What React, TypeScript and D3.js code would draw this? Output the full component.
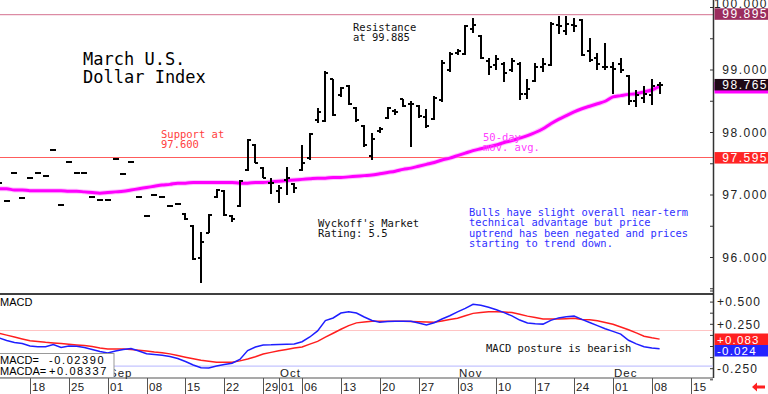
import * as d3 from "d3";
import { useEffect, useRef } from "react";

const W = 768;
const H = 394;

// days 0-23: single-print days (open = high = low = close)
const earlyPrices = [
  97.19, 96.9, 97.35, 96.95, 97.27, 97.35, 97.3, 97.72, 96.84, 97.53, 97.35, 97.35,
  96.97, 96.92, 96.92, 97.58, 97.34, 97.53, 96.97, 96.66, 97.0, 96.97, 96.82, 96.86,
];

// days 24-85
const opens = [
  96.7, 96.5, 96.0, 96.4, 96.97, 97.06, 96.67, 96.82, 97.4, 97.8,
  97.44, 97.2, 97.06, 97.24, 97.18, 97.4, 97.59, 98.2, 98.18, 98.85,
  98.6, 98.74, 98.4, 98.1, 97.62, 98.03, 98.23, 98.35, 98.53, 98.46,
  98.42, 98.25, 98.22, 98.52, 99.0, 99.28, 99.26, 99.66, 99.55, 99.14,
  99.08, 99.1, 99.0, 99.1, 98.62, 98.83, 99.05, 99.08, 99.72, 99.62,
  99.72, 99.8, 99.3, 99.2, 99.05, 99.05, 99.1, 98.9, 98.5, 98.55, 98.6, 98.76,
];
const highs = [
  96.71, 96.52, 96.41, 96.7, 97.1, 97.08, 96.68, 97.24, 97.9, 97.82,
  97.45, 97.27, 97.16, 97.45, 97.19, 97.8, 97.99, 98.39, 98.98, 98.86,
  98.73, 98.76, 98.41, 98.12, 97.99, 98.09, 98.41, 98.38, 98.54, 98.5,
  98.44, 98.38, 98.58, 99.16, 99.29, 99.34, 99.72, 99.83, 99.56, 99.19,
  99.24, 99.13, 99.19, 99.13, 98.86, 99.11, 99.19, 99.77, 99.86, 99.86,
  99.83, 99.82, 99.51, 99.27, 99.43, 99.13, 99.19, 98.92, 98.68, 98.74, 98.86, 98.81,
];
const lows = [
  96.6, 95.96, 95.59, 96.39, 96.95, 96.66, 96.57, 96.81, 97.38, 97.51,
  97.27, 97.02, 96.87, 97.0, 97.03, 97.38, 97.56, 98.15, 98.17, 98.26,
  98.57, 98.44, 98.17, 97.77, 97.56, 97.99, 98.22, 98.28, 98.41, 97.77,
  98.23, 98.07, 98.2, 98.49, 98.97, 99.24, 99.24, 99.59, 99.18, 98.92,
  99.0, 98.81, 98.97, 98.52, 98.54, 98.81, 98.97, 99.06, 99.58, 99.56,
  99.61, 99.22, 99.13, 99.0, 99.0, 98.62, 98.95, 98.44, 98.41, 98.47, 98.44, 98.62,
];
const closes = [
  96.61, 95.98, 96.25, 96.68, 97.08, 96.68, 96.62, 97.22, 97.88, 97.52,
  97.28, 97.19, 97.12, 97.27, 97.12, 97.52, 97.97, 98.33, 98.96, 98.28,
  98.71, 98.46, 98.2, 97.8, 97.9, 98.06, 98.4, 98.33, 98.42, 98.45,
  98.27, 98.1, 98.55, 99.12, 99.26, 99.31, 99.7, 99.72, 99.2, 99.05,
  99.18, 98.95, 99.15, 98.62, 98.7, 99.05, 99.1, 99.74, 99.7, 99.73,
  99.7, 99.24, 99.16, 99.1, 99.05, 99.02, 99.0, 98.5, 98.6, 98.62, 98.75, 98.765,
];

const movingAvg = [
  97.1, 97.1, 97.08, 97.08, 97.07, 97.07, 97.07, 97.07, 97.07, 97.06,
  97.06, 97.05, 97.04, 97.03, 97.04, 97.05, 97.06, 97.08, 97.1, 97.12,
  97.14, 97.16, 97.17, 97.19, 97.19, 97.2, 97.2, 97.2, 97.2, 97.2,
  97.2, 97.19, 97.19, 97.2, 97.2, 97.21, 97.22, 97.23, 97.24, 97.25,
  97.26, 97.27, 97.27, 97.28, 97.28, 97.29, 97.3, 97.31, 97.32, 97.34,
  97.36, 97.38, 97.41, 97.43, 97.46, 97.49, 97.52, 97.56, 97.59, 97.63,
  97.67, 97.71, 97.74, 97.77, 97.8, 97.84, 97.87, 97.91, 97.95, 98.0,
  98.06, 98.14, 98.21, 98.27, 98.33, 98.38, 98.42, 98.46, 98.5, 98.57,
  98.59, 98.61, 98.62, 98.65, 98.68, 98.74,
];

const macdLine = [
  0.096, 0.068, 0.045, 0.034, 0.006, -0.002, -0.002, 0.023, -0.011, 0.006,
  0.002, -0.011, -0.034, -0.056, -0.073, -0.051, -0.034, -0.023, -0.051, -0.081,
  -0.09, -0.099, -0.113, -0.135, -0.169, -0.208, -0.24, -0.242, -0.22, -0.203,
  -0.189, -0.146, -0.045, -0.006, 0.017, 0.019, 0.023, 0.025, 0.028, 0.054,
  0.107, 0.175, 0.291, 0.321, 0.377, 0.392, 0.377, 0.332, 0.293, 0.273,
  0.282, 0.284, 0.284, 0.284, 0.265, 0.242, 0.268, 0.31, 0.346, 0.39,
  0.43, 0.475, 0.464, 0.441, 0.413, 0.381, 0.345, 0.298, 0.265, 0.257,
  0.252, 0.294, 0.322, 0.336, 0.342, 0.305, 0.27, 0.235, 0.2, 0.17,
  0.14, 0.07, 0.03, -0.002, -0.017, -0.024,
];
const macdSignal = [
  0.149, 0.128, 0.107, 0.085, 0.065, 0.056, 0.047, 0.04, 0.033, 0.026,
  0.018, 0.011, 0.0, -0.016, -0.028, -0.028, -0.028, -0.033, -0.042, -0.052,
  -0.062, -0.07, -0.083, -0.102, -0.12, -0.138, -0.155, -0.167, -0.178, -0.178,
  -0.178, -0.162, -0.141, -0.115, -0.084, -0.066, -0.048, -0.033, -0.018, -0.005,
  0.027, 0.058, 0.105, 0.149, 0.194, 0.235, 0.266, 0.276, 0.283, 0.284,
  0.284, 0.284, 0.283, 0.281, 0.279, 0.276, 0.273, 0.288, 0.303, 0.319,
  0.346, 0.373, 0.384, 0.391, 0.392, 0.389, 0.382, 0.362, 0.342, 0.326,
  0.311, 0.31, 0.31, 0.313, 0.317, 0.305, 0.301, 0.29, 0.27, 0.25,
  0.22, 0.188, 0.153, 0.116, 0.098, 0.083,
];

const weekTickBars = [4, 9, 14, 19, 24, 29, 34, 36, 39, 44, 49, 54, 59, 64, 69, 74, 79, 84, 89];
const weekTickLabels = ["18", "25", "01", "08", "15", "22", "29", "01", "06", "13", "20", "27", "03", "10", "17", "24", "01", "08", "15"];
const monthBars = [14, 36, 59, 79];
const monthLabels = ["Sep", "Oct", "Nov", "Dec"];

const priceTicks = [100, 99, 98, 97, 96];
const macdTicks = [0.5, 0.25, -0.25];

const resistance = 99.885;
const support = 97.6;

const MONO = "'DejaVu Sans Mono', monospace";
const SANS = "'Liberation Sans', Arial, sans-serif";

export default function App() {
  const ref = useRef<SVGSVGElement>(null);

  useEffect(() => {
    if (!ref.current) return;
    const svg = d3.select(ref.current);
    svg.selectAll("*").remove();

    const plotRight = 713;
    const priceBottom = 293;
    const macdTop = 294;
    const axisY = 378;

    const x = d3.scaleLinear().domain([4, 89]).range([30, 690.7]);
    const y = d3.scaleLinear().domain([96, 99]).range([257.5, 70]);
    const ym = d3.scaleLinear().domain([0, 0.5]).range([346.5, 302.1]);

    const bars = [
      ...earlyPrices.map((p, i) => ({ i, o: p, h: p, l: p, c: p })),
      ...opens.map((o, k) => ({ i: k + 24, o, h: highs[k], l: lows[k], c: closes[k] })),
    ];

    svg.append("rect").attr("width", W).attr("height", H).attr("fill", "#fff");

    const defs = svg.append("defs");
    defs.append("clipPath").attr("id", "priceClip")
      .append("rect").attr("x", 0).attr("y", 0).attr("width", plotRight).attr("height", priceBottom);
    defs.append("clipPath").attr("id", "macdClip")
      .append("rect").attr("x", 0).attr("y", macdTop).attr("width", plotRight).attr("height", axisY - macdTop);

    // price panel
    const pg = svg.append("g").attr("clip-path", "url(#priceClip)");

    pg.append("line")
      .attr("x1", 0).attr("x2", plotRight)
      .attr("y1", y(resistance)).attr("y2", y(resistance))
      .attr("stroke", "#d4708f").attr("stroke-width", 1);
    pg.append("line")
      .attr("x1", 0).attr("x2", plotRight)
      .attr("y1", y(support)).attr("y2", y(support))
      .attr("stroke", "#ff5c5c").attr("stroke-width", 1);

    const maLine = d3.line<number>()
      .x((_, i) => x(i))
      .y((d) => y(d))
      .curve(d3.curveMonotoneX);

    pg.append("path").datum(movingAvg)
      .attr("d", maLine).attr("fill", "none")
      .attr("stroke", "#ff9cff").attr("stroke-width", 5).attr("opacity", 0.6);
    pg.append("path").datum(movingAvg)
      .attr("d", maLine).attr("fill", "none")
      .attr("stroke", "#ff00ff").attr("stroke-width", 3);

    pg.selectAll(".bar")
      .data(bars)
      .enter()
      .append("path")
      .attr("class", "bar")
      .attr("d", (d) => {
        const bx = Math.round(x(d.i));
        return `M${bx},${y(d.h)}V${y(d.l)}M${bx - 3},${y(d.o)}H${bx}M${bx},${y(d.c)}H${bx + 3}`;
      })
      .attr("fill", "none")
      .attr("stroke", "#000")
      .attr("stroke-width", 2)
      .attr("shape-rendering", "crispEdges");

    // annotations
    const note = (lines: string[], tx: number, ty: number, color: string, size = 10.5, lh = 10.5) => {
      const t = svg.append("text")
        .attr("font-family", MONO).attr("font-size", size).attr("fill", color);
      lines.forEach((s, k) => {
        t.append("tspan").attr("x", tx).attr("y", ty + k * lh).text(s);
      });
    };
    note(["March U.S.", "Dollar Index"], 83, 65, "#000", 17, 18);
    note(["Resistance", "at 99.885"], 353, 30.5, "#111");
    note(["Support at", "97.600"], 161, 137.5, "#ff4040");
    note(["50-day", "mov. avg."], 483, 140.5, "#ff40ff");
    note(["Wyckoff's Market", "Rating: 5.5"], 318, 226.5, "#111");
    note([
      "Bulls have slight overall near-term",
      "technical advantage but price",
      "uptrend has been negated and prices",
      "starting to trend down.",
    ], 469, 216, "#3030ff", 10.4, 10.4);
    note(["MACD posture is bearish"], 486, 351.5, "#111");

    // price axis
    svg.append("line")
      .attr("x1", plotRight + 0.5).attr("x2", plotRight + 0.5)
      .attr("y1", 0).attr("y2", axisY)
      .attr("stroke", "#333").attr("stroke-width", 1.5);
    svg.selectAll(".ptick")
      .data(d3.range(95.5, 100.01, 0.5))
      .enter()
      .append("line")
      .attr("x1", plotRight - 3).attr("x2", plotRight)
      .attr("y1", (d) => y(d)).attr("y2", (d) => y(d))
      .attr("stroke", "#333");
    svg.selectAll(".plabel")
      .data(priceTicks)
      .enter()
      .append("text")
      .attr("x", 768).attr("y", (d) => (d === 100 ? 8 : y(d) + 4.3))
      .attr("text-anchor", "end")
      .attr("font-family", SANS).attr("font-size", 12).attr("letter-spacing", 1.5)
      .attr("fill", "#222")
      .text((d) => d.toFixed(3));

    const valueBox = (cy: number, fill: string, label: string, h = 11.5) => {
      svg.append("rect")
        .attr("x", plotRight + 1.5).attr("y", cy - h / 2)
        .attr("width", W - plotRight).attr("height", h)
        .attr("fill", fill);
      if (!label) return;
      svg.append("text")
        .attr("x", 768).attr("y", cy + 4.3)
        .attr("text-anchor", "end")
        .attr("font-family", SANS).attr("font-size", 12).attr("letter-spacing", 1.5)
        .attr("fill", "#fff")
        .text(label);
    };
    valueBox(y(99.895), "#9b2d5e", "99.895");
    valueBox(y(98.74) + 1.5, "#ff00ff", "");
    valueBox(y(98.765), "#1e0816", "98.765");
    valueBox(y(97.595), "#ff2424", "97.595");

    // MACD panel
    svg.append("line")
      .attr("x1", 0).attr("x2", plotRight)
      .attr("y1", macdTop).attr("y2", macdTop)
      .attr("stroke", "#000").attr("stroke-width", 1.5);
    svg.append("text")
      .attr("x", 0).attr("y", 306)
      .attr("font-family", SANS).attr("font-size", 11).attr("fill", "#000")
      .text("MACD");

    const mg = svg.append("g").attr("clip-path", "url(#macdClip)");
    mg.append("line")
      .attr("x1", 0).attr("x2", plotRight)
      .attr("y1", ym(0.18)).attr("y2", ym(0.18))
      .attr("stroke", "#ffc4c4").attr("stroke-width", 1.2);
    mg.append("line")
      .attr("x1", 0).attr("x2", plotRight)
      .attr("y1", ym(-0.22)).attr("y2", ym(-0.22))
      .attr("stroke", "#c4c4ff").attr("stroke-width", 1.2);

    const macdPath = d3.line<number>()
      .x((_, i) => x(i))
      .y((d) => ym(d));
    mg.append("path").datum(macdSignal)
      .attr("d", macdPath).attr("fill", "none")
      .attr("stroke", "#ff1e1e").attr("stroke-width", 1.5);
    mg.append("path").datum(macdLine)
      .attr("d", macdPath).attr("fill", "none")
      .attr("stroke", "#1e1eff").attr("stroke-width", 1.5);

    svg.selectAll(".mtick")
      .data(d3.range(-0.375, 0.626, 0.125))
      .enter()
      .append("line")
      .attr("x1", plotRight - 3).attr("x2", plotRight)
      .attr("y1", (d) => ym(d)).attr("y2", (d) => ym(d))
      .attr("stroke", "#333");
    svg.selectAll(".mlabel")
      .data(macdTicks)
      .enter()
      .append("text")
      .attr("x", 717).attr("y", (d) => ym(d) + 4.3)
      .attr("font-family", SANS).attr("font-size", 12).attr("letter-spacing", 1.2)
      .attr("fill", "#222")
      .text((d) => (d > 0 ? "+" : "-") + Math.abs(d).toFixed(3));

    const last = macdLine.length - 1;
    const mBox = (v: number, top: number, fill: string) => {
      svg.append("rect")
        .attr("x", plotRight + 1.5).attr("y", top)
        .attr("width", W - plotRight).attr("height", 11.5)
        .attr("fill", fill);
      svg.append("text")
        .attr("x", 717).attr("y", top + 10)
        .attr("font-family", SANS).attr("font-size", 11.5).attr("letter-spacing", 1.2)
        .attr("fill", "#fff")
        .text((v >= 0 ? "+" : "-") + Math.abs(v).toFixed(3));
    };
    mBox(macdSignal[last], 333.5, "#ff2020");
    mBox(macdLine[last], 345, "#2424ff");

    // date axis
    svg.append("line")
      .attr("x1", 0).attr("x2", plotRight)
      .attr("y1", axisY).attr("y2", axisY)
      .attr("stroke", "#555").attr("stroke-width", 1.2);
    weekTickBars.forEach((b, k) => {
      const tx = Math.round(x(b)) + 0.5;
      svg.append("line")
        .attr("x1", tx).attr("x2", tx)
        .attr("y1", axisY).attr("y2", 394)
        .attr("stroke", "#555").attr("stroke-width", 1);
      svg.append("text")
        .attr("x", tx + 1.5).attr("y", 391)
        .attr("font-family", SANS).attr("font-size", 11.5).attr("letter-spacing", 0.3)
        .attr("fill", "#222")
        .text(weekTickLabels[k]);
    });
    monthBars.forEach((b, k) => {
      svg.append("text")
        .attr("x", Math.round(x(b)) + 1).attr("y", 376.5)
        .attr("font-family", SANS).attr("font-size", 11.5).attr("letter-spacing", 1)
        .attr("fill", "#222")
        .text(monthLabels[k]);
    });

    // MACD readout box
    svg.append("rect")
      .attr("x", -1).attr("y", 353.5).attr("width", 115).attr("height", 24)
      .attr("fill", "#fff").attr("stroke", "#999");
    const readout = [
      ["MACD=", "-0.02390"],
      ["MACDA=", "+0.08337"],
    ];
    readout.forEach(([k, v], r) => {
      svg.append("text")
        .attr("x", 0).attr("y", 363.5 + r * 11)
        .attr("font-family", SANS).attr("font-size", 11).attr("fill", "#000")
        .text(k);
      svg.append("text")
        .attr("x", 49).attr("y", 363.5 + r * 11)
        .attr("font-family", SANS).attr("font-size", 11).attr("letter-spacing", 1.6)
        .attr("fill", "#000")
        .text(v);
    });

    // scroll arrow
    svg.append("polygon")
      .attr("points", "752,387 757,382.5 757,385.5 765,385.5 765,388.5 757,388.5 757,391.5")
      .attr("fill", "#ff2020");

    return () => {
      svg.selectAll("*").remove();
    };
  }, []);

  return (
    <svg
      ref={ref}
      width={W}
      height={H}
      style={{ position: "absolute", left: 0, top: 0, display: "block" }}
    />
  );
}
